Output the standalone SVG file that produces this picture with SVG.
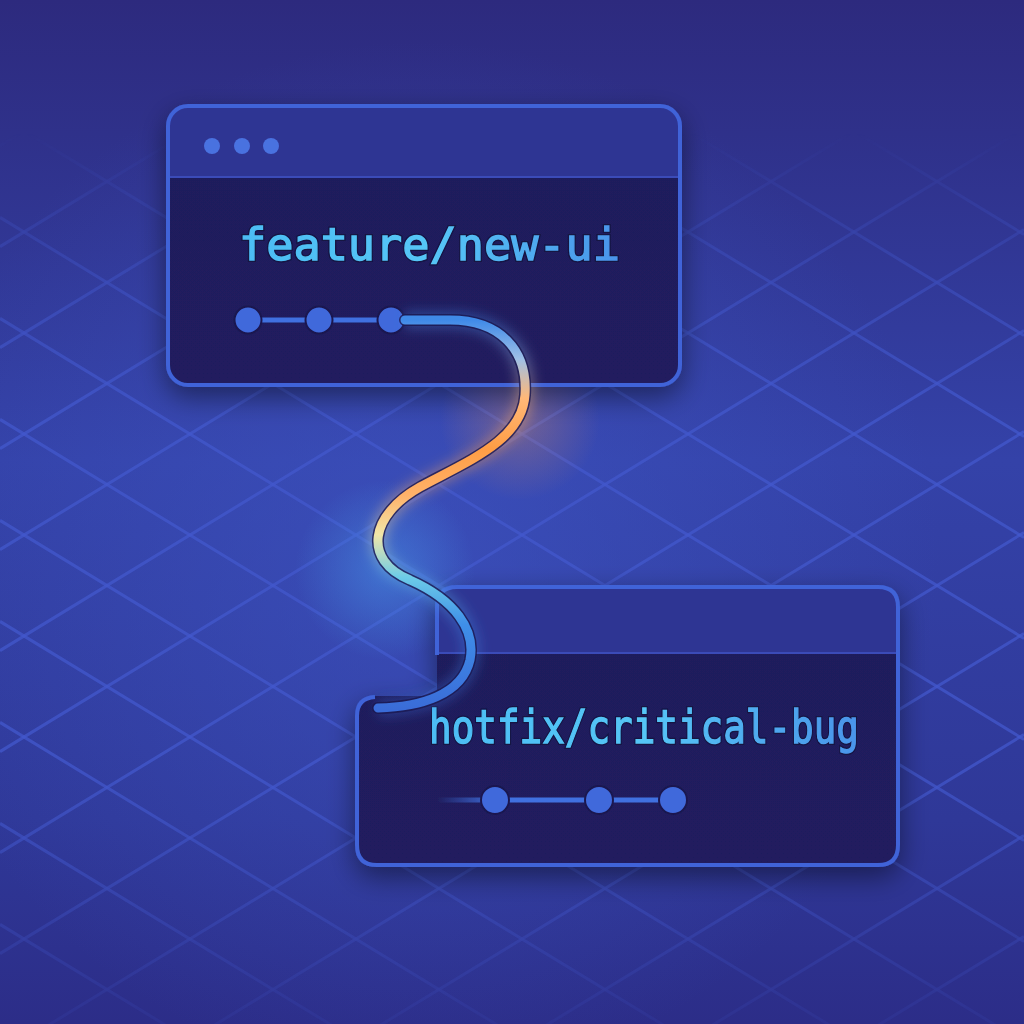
<svg xmlns="http://www.w3.org/2000/svg" width="1024" height="1024" viewBox="0 0 1024 1024">
<defs>
<linearGradient id="bg" x1="0" y1="0" x2="0" y2="1">
<stop offset="0" stop-color="#2d2a7e"/>
<stop offset="0.45" stop-color="#3442a8"/>
<stop offset="0.8" stop-color="#2f3898"/>
<stop offset="1" stop-color="#2c2d88"/>
</linearGradient>
<radialGradient id="bglight" cx="420" cy="560" r="520" gradientUnits="userSpaceOnUse">
<stop offset="0" stop-color="#3f58c8" stop-opacity="0.55"/>
<stop offset="1" stop-color="#3f58c8" stop-opacity="0"/>
</radialGradient>
<linearGradient id="gridfade" x1="0" y1="0" x2="0" y2="1024" gradientUnits="userSpaceOnUse">
<stop offset="0.13" stop-color="#fff" stop-opacity="0"/>
<stop offset="0.28" stop-color="#fff" stop-opacity="0.6"/>
<stop offset="0.4" stop-color="#fff" stop-opacity="1"/>
<stop offset="0.75" stop-color="#fff" stop-opacity="1"/>
<stop offset="0.92" stop-color="#fff" stop-opacity="0.35"/>
<stop offset="1" stop-color="#fff" stop-opacity="0.15"/>
</linearGradient>
<mask id="gmask"><rect width="1024" height="1024" fill="url(#gridfade)"/></mask>
<linearGradient id="body" x1="0" y1="0" x2="0" y2="1">
<stop offset="0" stop-color="#1f1d5c"/>
<stop offset="1" stop-color="#201e5e"/>
</linearGradient>
<linearGradient id="txt" x1="0" y1="0" x2="1" y2="0">
<stop offset="0" stop-color="#4cbdf4"/>
<stop offset="0.5" stop-color="#55c6f6"/>
<stop offset="1" stop-color="#4a94ea"/>
</linearGradient>
<linearGradient id="conn" x1="0" y1="320" x2="0" y2="710" gradientUnits="userSpaceOnUse">
<stop offset="0" stop-color="#3f8ae8"/>
<stop offset="0.1" stop-color="#9fc0e6"/>
<stop offset="0.2" stop-color="#ffb878"/>
<stop offset="0.33" stop-color="#ff9d45"/>
<stop offset="0.45" stop-color="#ffb26a"/>
<stop offset="0.55" stop-color="#f1e6a8"/>
<stop offset="0.66" stop-color="#6ccbe8"/>
<stop offset="0.78" stop-color="#3f8fe8"/>
<stop offset="1" stop-color="#3a6cd8"/>
</linearGradient>
<radialGradient id="glowO" cx="0.5" cy="0.5" r="0.5">
<stop offset="0" stop-color="#ff9a50" stop-opacity="0.3"/>
<stop offset="1" stop-color="#ff9a50" stop-opacity="0"/>
</radialGradient>
<radialGradient id="glowB" cx="0.5" cy="0.5" r="0.5">
<stop offset="0" stop-color="#4aa0f0" stop-opacity="0.45"/>
<stop offset="1" stop-color="#4aa0f0" stop-opacity="0"/>
</radialGradient>
<linearGradient id="fadeLine" x1="437" y1="0" x2="500" y2="0" gradientUnits="userSpaceOnUse">
<stop offset="0" stop-color="#3f6fe0" stop-opacity="0"/>
<stop offset="1" stop-color="#3f6fe0"/>
</linearGradient>
<filter id="shadow" x="-20%" y="-20%" width="140%" height="150%">
<feGaussianBlur in="SourceAlpha" stdDeviation="14"/>
<feOffset dy="10"/>
<feComponentTransfer><feFuncA type="linear" slope="0.45"/></feComponentTransfer>
<feMerge><feMergeNode/><feMergeNode in="SourceGraphic"/></feMerge>
</filter>
<filter id="blur6" x="-20%" y="-20%" width="140%" height="140%"><feGaussianBlur stdDeviation="6"/></filter>
<style>
.grid line{stroke:#4358cc;stroke-width:3;stroke-opacity:0.75}
.frame{stroke:#3f63d8;stroke-width:4}
.hdr{fill:#2f3593}
.hdrline{stroke:#3a4cb8;stroke-width:2}
.win{fill:#4a72e0}
.commit{fill:#4169db;stroke:#1a1850;stroke-width:2}
.cline{stroke:#3f6fe0;stroke-width:5;fill:none}
.label{font-family:"DejaVu Sans Mono","Liberation Mono",monospace;fill:url(#txt);stroke:url(#txt);stroke-width:1.4}
.labelbg{font-family:"DejaVu Sans Mono","Liberation Mono",monospace;fill:none;stroke:#141243;stroke-width:4}
</style>
</defs>

<rect width="1024" height="1024" fill="url(#bg)"/>
<rect width="1024" height="1024" fill="url(#bglight)"/>

<g class="grid" mask="url(#gmask)">
<line x1="0" y1="-590.6" x2="1024" y2="32.5"/>
<line x1="0" y1="-489.6" x2="1024" y2="133.5"/>
<line x1="0" y1="-388.6" x2="1024" y2="234.5"/>
<line x1="0" y1="-287.6" x2="1024" y2="335.5"/>
<line x1="0" y1="-186.6" x2="1024" y2="436.5"/>
<line x1="0" y1="-85.6" x2="1024" y2="537.5"/>
<line x1="0" y1="15.4" x2="1024" y2="638.5"/>
<line x1="0" y1="116.4" x2="1024" y2="739.5"/>
<line x1="0" y1="217.4" x2="1024" y2="840.5"/>
<line x1="0" y1="318.4" x2="1024" y2="941.5"/>
<line x1="0" y1="419.4" x2="1024" y2="1042.5"/>
<line x1="0" y1="520.4" x2="1024" y2="1143.5"/>
<line x1="0" y1="621.4" x2="1024" y2="1244.5"/>
<line x1="0" y1="722.4" x2="1024" y2="1345.5"/>
<line x1="0" y1="823.4" x2="1024" y2="1446.5"/>
<line x1="0" y1="924.4" x2="1024" y2="1547.5"/>
<line x1="0" y1="44.6" x2="1024" y2="-578.5"/>
<line x1="0" y1="145.6" x2="1024" y2="-477.5"/>
<line x1="0" y1="246.6" x2="1024" y2="-376.5"/>
<line x1="0" y1="347.6" x2="1024" y2="-275.5"/>
<line x1="0" y1="448.6" x2="1024" y2="-174.5"/>
<line x1="0" y1="549.6" x2="1024" y2="-73.5"/>
<line x1="0" y1="650.6" x2="1024" y2="27.5"/>
<line x1="0" y1="751.6" x2="1024" y2="128.5"/>
<line x1="0" y1="852.6" x2="1024" y2="229.5"/>
<line x1="0" y1="953.6" x2="1024" y2="330.5"/>
<line x1="0" y1="1054.6" x2="1024" y2="431.5"/>
<line x1="0" y1="1155.6" x2="1024" y2="532.5"/>
<line x1="0" y1="1256.6" x2="1024" y2="633.5"/>
<line x1="0" y1="1357.6" x2="1024" y2="734.5"/>
<line x1="0" y1="1458.6" x2="1024" y2="835.5"/>
<line x1="0" y1="1559.6" x2="1024" y2="936.5"/>
</g>

<ellipse cx="520" cy="420" rx="80" ry="80" fill="url(#glowO)"/>
<ellipse cx="385" cy="570" rx="90" ry="90" fill="url(#glowB)"/>

<g id="node-feature" filter="url(#shadow)">
<rect x="168" y="106" width="512" height="279" rx="20" fill="url(#body)"/>
<path d="M188 106 H660 Q680 106 680 126 V177 H168 V126 Q168 106 188 106 Z" class="hdr"/>
<line x1="170" y1="177" x2="678" y2="177" class="hdrline"/>
<rect x="168" y="106" width="512" height="279" rx="20" fill="none" class="frame"/>
<circle cx="212" cy="146" r="8" class="win"/>
<circle cx="242" cy="146" r="8" class="win"/>
<circle cx="271" cy="146" r="8" class="win"/>
<text x="239" y="260" font-size="45" textLength="381" lengthAdjust="spacingAndGlyphs" class="labelbg">feature/new-ui</text>
<text x="239" y="260" font-size="45" textLength="381" lengthAdjust="spacingAndGlyphs" class="label">feature/new-ui</text>
<line x1="248" y1="320" x2="395" y2="320" class="cline"/>
<circle cx="248" cy="320" r="13.5" class="commit"/>
<circle cx="319" cy="320" r="13.5" class="commit"/>
<circle cx="391" cy="320" r="13.5" class="commit"/>
</g>

<g id="node-hotfix" filter="url(#shadow)">
<path d="M457 587 H878 Q898 587 898 607 V845 Q898 865 878 865 H377 Q357 865 357 845 V716 Q357 696 377 696 H437 V607 Q437 587 457 587 Z" fill="url(#body)"/>
<path d="M457 587 H878 Q898 587 898 607 V653 H437 V607 Q437 587 457 587 Z" class="hdr"/>
<line x1="439" y1="653" x2="896" y2="653" class="hdrline"/>
<path d="M437 655 V607 Q437 587 457 587 H878 Q898 587 898 607 V845 Q898 865 878 865 H377 Q357 865 357 845 V716 Q357 698 375 697" fill="none" class="frame"/>
<text x="429" y="743" font-size="47" textLength="430" lengthAdjust="spacingAndGlyphs" class="labelbg">hotfix/critical-bug</text>
<text x="429" y="743" font-size="47" textLength="430" lengthAdjust="spacingAndGlyphs" class="label">hotfix/critical-bug</text>
<line x1="437" y1="800" x2="673" y2="800" style="stroke:url(#fadeLine);stroke-width:5"/>
<circle cx="495" cy="800" r="14" class="commit"/>
<circle cx="599" cy="800" r="14" class="commit"/>
<circle cx="673" cy="800" r="14" class="commit"/>
</g>

<g id="connectors">
<path d="M405 320 L450 320 C500 320 528 350 525 395 C522 440 470 460 420 487 C370 515 362 560 410 580 C455 600 476 630 470 660 C462 695 420 707 378 708" fill="none" stroke="url(#conn)" stroke-width="18" stroke-opacity="0.35" filter="url(#blur6)"/>
<path d="M405 320 L450 320 C500 320 528 350 525 395 C522 440 470 460 420 487 C370 515 362 560 410 580 C455 600 476 630 470 660 C462 695 420 707 378 708" fill="none" stroke="#1a1850" stroke-width="12" stroke-linecap="round" stroke-opacity="0.8"/>
<path d="M405 320 L450 320 C500 320 528 350 525 395 C522 440 470 460 420 487 C370 515 362 560 410 580 C455 600 476 630 470 660 C462 695 420 707 378 708" fill="none" stroke="url(#conn)" stroke-width="9" stroke-linecap="round"/>
</g>
</svg>
